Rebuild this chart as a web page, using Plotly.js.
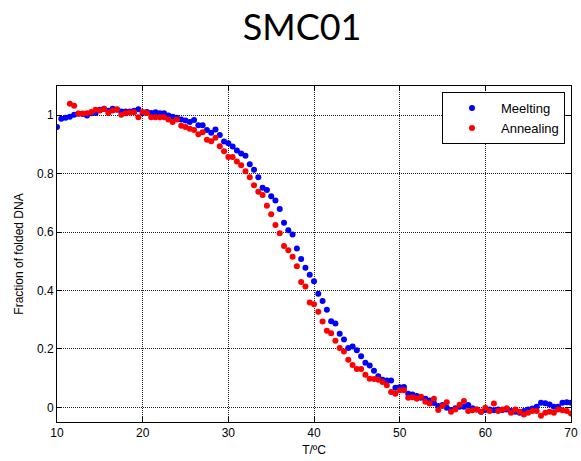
<!DOCTYPE html>
<html>
<head>
<meta charset="utf-8">
<script src="https://cdn.plot.ly/plotly-3.0.1.min.js"></script>
<style>html,body{margin:0;padding:0;background:#fff;}#chart{width:581px;height:461px;}</style>
</head>
<body>
<div id="chart"></div>
<script>
var tempMelt = [10,10.5,11,11.5,12,12.5,13,13.5,14,14.5,15,15.5,16,16.5,17,17.5,18,18.5,19,19.5,
  20,20.5,21,21.5,22,22.5,23,23.5,24,24.5,25,25.5,26,26.5,27,27.5,28,28.5,29,29.5,
  30,30.5,31,31.5,32,32.5,33,33.5,34,34.5,35,35.5,36,36.5,37,37.5,38,38.5,39,39.5,
  40,40.5,41,41.5,42,42.5,43,43.5,44,44.5,45,45.5,46,46.5,47,47.5,48,48.5,49,49.5,
  50,50.5,51,51.5,52,52.5,53,53.5,54,54.5,55,55.5,56,56.5,57,57.5,58,58.5,59,59.5,
  60,60.5,61,61.5,62,62.5,63,63.5,64,64.5,65,65.5,66,66.5,67,67.5,68,68.5,69,69.5,70];
var fracMelt = [0.960,0.988,0.991,0.995,1.002,1.005,1.004,0.999,1.007,1.008,
  1.019,1.022,1.015,1.022,1.019,1.013,1.013,1.013,1.015,1.020,
  1.008,1.011,1.008,1.010,1.007,1.007,0.999,0.995,0.991,0.985,
  0.982,0.977,0.984,0.966,0.966,0.949,0.940,0.951,0.932,0.910,
  0.904,0.893,0.879,0.869,0.861,0.832,0.813,0.788,0.752,0.744,
  0.723,0.708,0.679,0.632,0.606,0.592,0.544,0.508,0.478,0.454,
  0.432,0.389,0.364,0.334,0.295,0.287,0.252,0.232,0.203,0.208,
  0.196,0.175,0.153,0.143,0.125,0.107,0.095,0.092,0.092,0.067,
  0.069,0.070,0.047,0.044,0.039,0.033,0.030,0.024,0.015,0.005,
  0.008,-0.001,-0.009,-0.003,0.002,0.002,0.008,-0.003,-0.007,-0.015,
  -0.009,-0.007,-0.010,-0.007,-0.009,-0.007,-0.012,-0.015,-0.018,-0.012,
  -0.007,-0.004,0.002,0.016,0.014,0.010,0.002,0.002,0.016,0.018,0.016];
var tempAnneal = [11.5,12,12.5,13,13.5,14,14.5,15,15.5,16,16.5,17,17.5,18,18.5,19,19.5,
  20,20.5,21,21.5,22,22.5,23,23.5,24,24.5,25,25.5,26,26.5,27,27.5,28,28.5,29,29.5,
  30,30.5,31,31.5,32,32.5,33,33.5,34,34.5,35,35.5,36,36.5,37,37.5,38,38.5,39,39.5,
  40,40.5,41,41.5,42,42.5,43,43.5,44,44.5,45,45.5,46,46.5,47,47.5,48,48.5,49,49.5,
  50,50.5,51,51.5,52,52.5,53,53.5,54,54.5,55,55.5,56,56.5,57,57.5,58,58.5,59,59.5,
  60,60.5,61,61.5,62,62.5,63,63.5,64,64.5,65,65.5,66,66.5,67,67.5,68,68.5,69,69.5,70];
var fracAnneal = [1.039,1.032,1.006,1.006,1.007,1.011,1.019,
  1.016,1.021,1.008,1.016,1.020,1.002,1.007,1.009,1.010,0.993,
  1.011,1.008,0.993,0.993,0.993,0.993,0.985,0.977,0.985,0.964,
  0.960,0.954,0.949,0.935,0.942,0.916,0.911,0.923,0.894,0.877,
  0.857,0.857,0.842,0.829,0.808,0.788,0.760,0.738,0.727,0.690,
  0.661,0.624,0.596,0.552,0.538,0.516,0.483,0.429,0.414,0.359,
  0.353,0.327,0.294,0.262,0.254,0.228,0.203,0.191,0.163,0.145,
  0.131,0.131,0.112,0.098,0.097,0.095,0.087,0.076,0.053,0.047,
  0.059,0.059,0.033,0.035,0.030,0.036,0.019,0.013,0.030,-0.009,
  0.005,0.018,-0.015,-0.007,0.009,0.022,-0.012,-0.010,-0.007,-0.015,
  -0.001,-0.012,0.013,-0.012,-0.007,-0.003,-0.018,-0.007,-0.015,-0.024,
  -0.018,-0.012,-0.012,-0.029,-0.018,-0.015,-0.018,-0.007,-0.010,-0.012,-0.021];
var seriesNames = ['Meelting','Annealing'];
var xTicks = [10,20,30,40,50,60,70];
var yTicks = [0,0.2,0.4,0.6,0.8,1];
var yTickLabels = ['0','0.2','0.4','0.6','0.8','1'];

var data = [
  {x: tempMelt, y: fracMelt, name: seriesNames[0], type: 'scatter', mode: 'markers',
   marker: {color: '#0000ff', size: 6}},
  {x: tempAnneal, y: fracAnneal, name: seriesNames[1], type: 'scatter', mode: 'markers',
   marker: {color: '#ff0000', size: 6}}
];

var axisCommon = {
  showline: true, linecolor: '#000', linewidth: 1, mirror: 'ticks',
  ticks: 'inside', ticklen: 5, tickcolor: '#000',
  showgrid: true, gridcolor: '#222', gridwidth: 1, griddash: '1px,1px',
  zeroline: false,
  tickfont: {family: 'Liberation Sans, Arial, sans-serif', size: 12, color: '#000'}
};

var layout = {
  width: 581, height: 461,
  margin: {l: 57, r: 10, t: 86, b: 39},
  paper_bgcolor: '#fff', plot_bgcolor: '#fff',
  showlegend: true,
  title: {text: 'SMC01', x: 0.52, xanchor: 'center', y: 0.94, yanchor: 'middle',
          font: {family: 'Lato, Calibri, sans-serif', size: 36, color: '#000'}},
  xaxis: Object.assign({}, axisCommon, {
    range: [10, 70], tickvals: xTicks,
    title: {text: 'T/ºC', standoff: 6, font: {family: 'Liberation Sans, Arial, sans-serif', size: 12, color: '#000'}}
  }),
  yaxis: Object.assign({}, axisCommon, {
    range: [-0.05, 1.1], tickvals: yTicks, ticktext: yTickLabels,
    title: {text: 'Fraction of folded DNA', standoff: 10, font: {family: 'Liberation Sans, Arial, sans-serif', size: 12, color: '#000'}}
  }),
  legend: {x: 0.749, y: 0.982, xanchor: 'left', yanchor: 'top',
    bgcolor: '#fff', bordercolor: '#000', borderwidth: 1,
    itemwidth: 48,
    font: {family: 'Liberation Sans, Arial, sans-serif', size: 13, color: '#000'}}
};

Plotly.newPlot('chart', data, layout, {displayModeBar: false, staticPlot: true});
</script>
</body>
</html>
